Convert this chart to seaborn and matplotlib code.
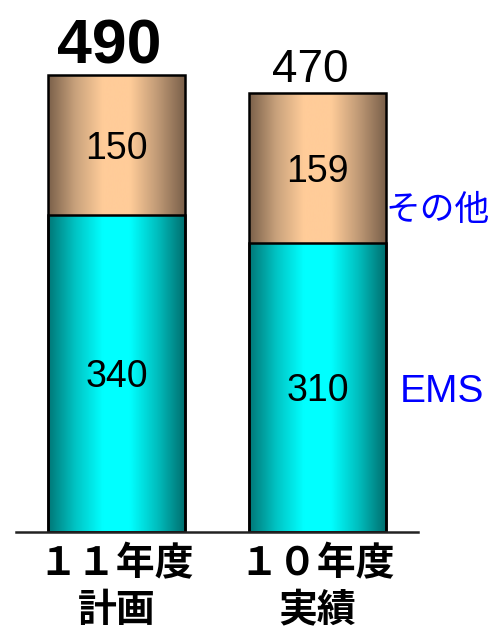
import numpy as np
import pandas as pd
import matplotlib
matplotlib.use("Agg")
import matplotlib.pyplot as plt
from matplotlib.colors import LinearSegmentedColormap
import seaborn as sns

# データ（単位：億円）
categories = ["１１年度\n計画", "１０年度\n実績"]
ems = [340, 310]
other = [150, 159]
totals = [490, 470]
series_names = ["その他", "EMS"]

sns.set_theme(style="white")
plt.rcParams["font.family"] = ["Noto Sans CJK JP", "DejaVu Sans"]

df = pd.DataFrame({"cat": categories, "ems": ems, "total": totals})

fig = plt.figure(figsize=(4.97, 6.34), dpi=100)
ax = fig.add_axes([16 / 497, 102 / 634, 402 / 497, 532 / 634])

# 積み上げ棒：合計を先に、EMSを上から重ねる
sns.barplot(data=df, x="cat", y="total", width=0.68, ax=ax,
            color="#FFCC99", edgecolor="black", linewidth=1.8)
sns.barplot(data=df, x="cat", y="ems", width=0.68, ax=ax,
            color="#00FFFF", edgecolor="black", linewidth=1.8)

# 円柱風グラデーション
tan_cmap = LinearSegmentedColormap.from_list(
    "tan", ["#7A604A", "#C9A27C", "#FFCC99", "#FFCC99", "#C09A76", "#7A604A"])
cyan_cmap = LinearSegmentedColormap.from_list(
    "cyan", ["#007777", "#00C4C4", "#00FFFF", "#00FFFF", "#00BEBE", "#006F6F"])
grad = np.linspace(0, 1, 256).reshape(1, -1)

n = len(categories)
for i, p in enumerate(ax.patches):
    cmap = tan_cmap if i < n else cyan_cmap
    x0, y0 = p.get_x(), p.get_y()
    w, h = p.get_width(), p.get_height()
    im = ax.imshow(grad, cmap=cmap, aspect="auto", extent=[x0, x0 + w, y0, y0 + h],
                   zorder=0.5 if i < n else 0.6, interpolation="bicubic")
    im.set_clip_path(p)
    p.set_facecolor("none")
    p.set_zorder(1)
ax.set_xlim(-0.5, 1.5)
ax.set_ylim(0, 570)

# 数値ラベル
num_font = ["Liberation Sans", "DejaVu Sans"]
for i in range(n):
    ax.text(i, ems[i] / 2, str(ems[i]), ha="center", va="center_baseline",
            fontsize=27, family=num_font, color="black", zorder=3)
    ax.text(i, ems[i] + other[i] / 2, str(other[i]), ha="center", va="center_baseline",
            fontsize=27, family=num_font, color="black", zorder=3)

ax.annotate(str(totals[0]), (0, totals[0]), xytext=(-5, 8), textcoords="offset points",
            ha="center", va="baseline", fontsize=45, fontweight="bold",
            family=num_font, color="black")
ax.annotate(str(totals[1]), (1, totals[1]), xytext=(-5, 8.5), textcoords="offset points",
            ha="center", va="baseline", fontsize=33, family=num_font, color="black")

# 系列名
ax.annotate(series_names[0], (1.34, ems[1] + other[1] * 0.3), xytext=(0, -9),
            textcoords="offset points", ha="left", va="center",
            fontsize=25, color="#0000FF", annotation_clip=False)
ax.annotate(series_names[1], (1.34, ems[1] / 2 + 8), xytext=(10, -9),
            textcoords="offset points", ha="left", va="center",
            fontsize=28, color="#0000FF", family=num_font,
            annotation_clip=False)

# 軸
ax.set_xlabel("")
ax.set_ylabel("")
ax.set_yticks([])
for s in ["top", "right", "left"]:
    ax.spines[s].set_visible(False)
ax.spines["bottom"].set_color("#222222")
ax.spines["bottom"].set_linewidth(1.8)
ax.tick_params(axis="x", length=0, pad=9)
for lab in ax.get_xticklabels():
    lab.set_fontsize(28)
    lab.set_fontweight("bold")
    lab.set_linespacing(1.25)
    lab.set_color("black")

fig.savefig("out.png", dpi=100)
